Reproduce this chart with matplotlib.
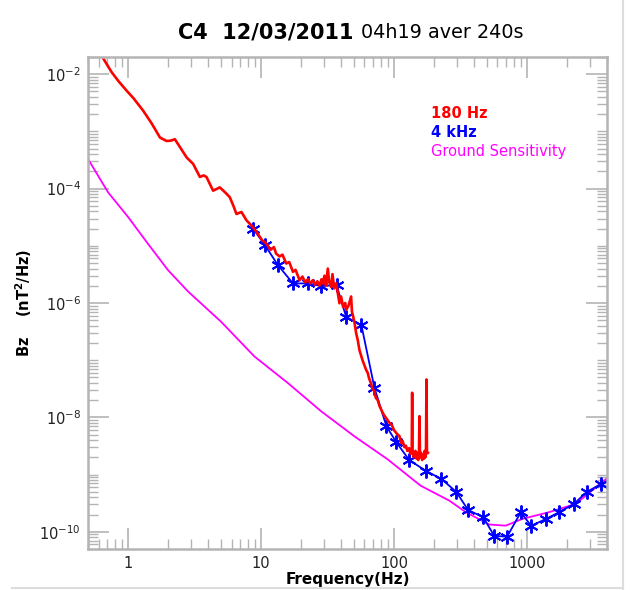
import matplotlib.pyplot as plt
import matplotlib.ticker as mticker
from matplotlib.lines import Line2D

# 180 Hz waveform spectrum (red)
f_180 = [0.62, 0.65, 0.75, 0.85, 0.98, 1.1, 1.3, 1.5, 1.74, 1.95, 2.1, 2.25, 2.5,
         2.76, 3.09, 3.47, 3.7, 3.89, 4.36, 4.9, 5.4, 5.82, 6.2, 6.54, 7.13, 7.77,
         8.72, 9.5, 10.2, 10.96, 11.8, 12.5, 13.0, 13.8, 14.5, 15.5, 16.3, 17.4,
         18.2, 19.5, 20.5, 21.5, 22.5, 23.5, 24.5, 25.5, 26.5, 27.5, 28.5, 29.2,
         30.0, 30.8, 31.8, 32.6, 33.7, 34.5, 35.5, 36.8, 37.8, 38.9, 40.0, 41.5,
         43.0, 43.7, 45.5, 47.6, 48.3, 49.0, 50.5, 51.9, 53.5, 55.0, 58.0, 61.7,
         63.5, 65.0, 67.0, 69.2, 71.0, 73.0, 75.5, 77.7, 81.0, 84.0, 88.0, 92.3,
         96.0, 100, 105, 110, 113, 116, 120, 123,
         126, 130, 133, 136, 137, 138, 141, 145, 148, 150, 152, 154, 155.5, 157,
         160, 163, 166, 168, 170, 172, 174, 175.5, 177, 180]
bz_180 = [2.4e-2, 1.9e-2, 1.1e-2, 7.5e-3, 5.1e-3, 3.8e-3, 2.3e-3, 1.4e-3, 7.8e-4,
          6.8e-4, 6.9e-4, 7.3e-4, 5.0e-4, 3.5e-4, 2.7e-4, 1.6e-4, 1.7e-4, 1.6e-4,
          9.2e-5, 1.05e-4, 8.5e-5, 7.1e-5, 5.0e-5, 3.6e-5, 3.9e-5, 2.8e-5, 2.1e-5,
          1.6e-5, 1.25e-5, 1.1e-5, 8.5e-6, 9.5e-6, 7.3e-6, 6.5e-6, 7.0e-6, 4.9e-6,
          5.2e-6, 3.5e-6, 3.8e-6, 2.5e-6, 2.9e-6, 2.3e-6, 2.6e-6, 2.2e-6, 2.5e-6,
          2.1e-6, 2.4e-6, 2.0e-6, 2.6e-6, 2.2e-6, 3.0e-6, 2.0e-6, 4.0e-6, 2.3e-6,
          1.9e-6, 3.2e-6, 1.8e-6, 2.2e-6, 1.5e-6, 9.9e-7, 1.3e-6, 8.5e-7, 1.0e-6,
          7.6e-7, 9.0e-7, 1.3e-6, 7.0e-7, 6.2e-7, 4.5e-7, 3.0e-7, 2.2e-7, 1.5e-7,
          1.0e-7, 6.8e-8, 6.0e-8, 4.8e-8, 4.0e-8, 3.1e-8, 2.9e-8, 2.2e-8, 2.0e-8,
          1.6e-8, 1.3e-8, 1.1e-8, 9.5e-9, 8.1e-9, 7.5e-9, 6.0e-9,
          5.2e-9, 4.7e-9, 3.6e-9, 3.9e-9, 3.0e-9, 3.2e-9, 2.6e-9, 2.9e-9, 2.3e-9,
          2.5e-9, 2.7e-8, 2.4e-9, 2.0e-9, 2.6e-9, 1.9e-9, 2.4e-9, 1.8e-9, 2.1e-9,
          1.05e-8, 2.0e-9, 2.4e-9, 1.8e-9, 2.2e-9, 1.9e-9, 2.6e-9, 2.0e-9, 2.3e-9,
          4.6e-8, 2.5e-9, 2.4e-9]

# 4 kHz spectrum (blue, asterisks)
f_4k = [8.71, 10.7, 13.4, 17.4, 22.4, 28.5, 37.0, 43.7, 56.9, 71.3, 87.7, 104,
        130, 175, 227, 294, 361, 469, 567, 709, 899, 1075, 1393, 1742, 2256,
        2824, 3595]
bz_4k = [2.0e-5, 1.03e-5, 4.6e-6, 2.2e-6, 2.2e-6, 1.98e-6, 2.06e-6, 5.7e-7,
         4.1e-7, 3.3e-8, 7.0e-9, 3.7e-9, 1.8e-9, 1.15e-9, 8.4e-10, 5.0e-10,
         2.4e-10, 1.8e-10, 8.5e-11, 8.2e-11, 2.2e-10, 1.27e-10, 1.68e-10,
         2.2e-10, 3.07e-10, 5.0e-10, 6.8e-10]

# ground sensitivity (magenta)
f_gs = [0.5, 0.708, 1.0, 1.41, 2.0, 2.82, 5.01, 8.93, 15.9, 28.2, 50.2, 89.3,
        158.6, 261, 347, 520, 692, 925, 1465, 2323, 4000]
bz_gs = [3.3e-4, 8.6e-5, 3.2e-5, 1.09e-5, 3.75e-6, 1.6e-6, 4.7e-7, 1.16e-7,
         4.0e-8, 1.29e-8, 4.7e-9, 1.86e-9, 6.4e-10, 3.5e-10, 2.2e-10, 1.34e-10,
         1.28e-10, 1.68e-10, 2.2e-10, 3.07e-10, 8.6e-10]

legend_labels = ['180 Hz', '4 kHz', 'Ground Sensitivity']
legend_colors = ['#ff0000', '#0000ff', '#ff00ff']

W, H = 630, 590
fig = plt.figure(figsize=(W / 100, H / 100), dpi=100)
ax = fig.add_axes([88 / W, 1 - 549 / H, (607 - 88) / W, (549 - 57) / H])

ax.plot(f_gs, bz_gs, color='#ff00ff', lw=1.3)
ax.plot(f_4k, bz_4k, color='#0000ff', lw=1.3, marker=(6, 2, 0), ms=10, mew=1.4)
ax.plot(f_180, bz_180, color='#ff0000', lw=1.9)

ax.set_xscale('log')
ax.set_yscale('log')
ax.set_xlim(0.5, 4000)
ax.set_ylim(5e-11, 2e-2)

grey = '#b4b4b4'
for s in ax.spines.values():
    s.set_color(grey)
    s.set_linewidth(1.8)

ax.xaxis.set_major_locator(mticker.LogLocator(base=10, numticks=10))
ax.xaxis.set_minor_locator(mticker.LogLocator(base=10, subs=range(2, 10), numticks=20))
ax.xaxis.set_major_formatter(mticker.FuncFormatter(lambda v, p: '%g' % v))
ax.xaxis.set_minor_formatter(mticker.NullFormatter())
ax.yaxis.set_major_locator(mticker.FixedLocator([1e-2, 1e-4, 1e-6, 1e-8, 1e-10]))
ax.yaxis.set_minor_locator(mticker.LogLocator(base=10, subs=range(1, 10), numticks=30))
ax.yaxis.set_minor_formatter(mticker.NullFormatter())

ax.tick_params(which='both', direction='in', top=True, right=True, color=grey,
               labelcolor='#222222', labelsize=10.5)
ax.tick_params(which='major', length=15, width=1.2, pad=5)
ax.tick_params(which='minor', length=7.5, width=1.0)

ax.set_xlabel('Frequency(Hz)', fontsize=11, fontweight='bold', labelpad=1)
ax.set_ylabel(r'Bz    (nT$^\mathbf{2}$/Hz)', fontsize=10.5, fontweight='bold', labelpad=4)

# title in two weights
fig.text(353 / W, 1 - 33 / H, 'C4  12/03/2011', fontsize=15, fontweight='bold',
         ha='right', va='center')
fig.text(361 / W, 1 - 33 / H, '04h19 aver 240s', fontsize=13.8, ha='left', va='center')

# text legend
for i, (lab, col) in enumerate(zip(legend_labels, legend_colors)):
    fig.text(431 / W, 1 - (113 + 19.5 * i) / H, lab, color=col, fontsize=10.5,
             fontweight='bold' if i < 2 else 'normal', ha='left', va='center')

# screenshot border lines
fig.add_artist(Line2D([623 / W, 623 / W], [0, 1], color='#dddddd', lw=1.5))
fig.add_artist(Line2D([12 / W, 623 / W], [1 - 588 / H, 1 - 588 / H], color='#dddddd', lw=1.5))

fig.savefig('out.png', dpi=100)
